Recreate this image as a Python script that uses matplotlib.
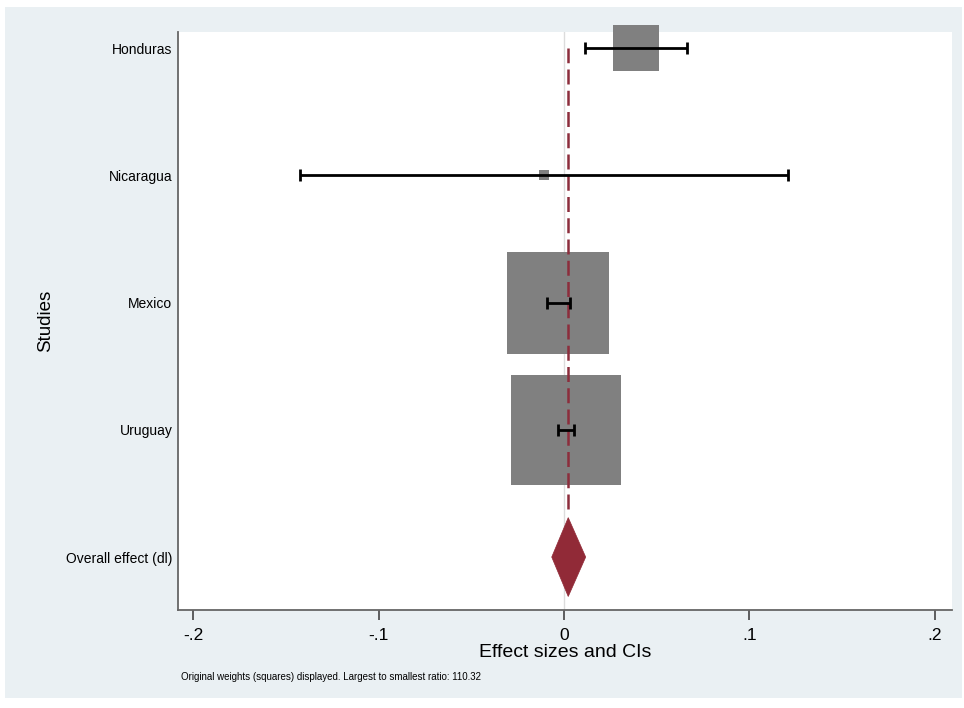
import matplotlib
matplotlib.use("Agg")
import matplotlib.pyplot as plt
from matplotlib.patches import Rectangle, Polygon
import numpy as np

plt.rcParams['font.family'] = ['Liberation Sans', 'DejaVu Sans']

# ========================================================================
# data
studies = ["Honduras", "Nicaragua", "Mexico", "Uruguay"]
effect = [0.0390, -0.0108, -0.0030, 0.0011]
ci_low = [0.0116, -0.1424, -0.0093, -0.0034]
ci_high = [0.0664, 0.1208, 0.0030, 0.0056]
weights = [20.1, 1.0, 96.7, 110.32]   # relative (square areas)

overall_label = "Overall effect (dl)"
overall_effect = 0.0023
overall_low = -0.0066
overall_high = 0.0117

xticks = [-0.2, -0.1, 0.0, 0.1, 0.2]
xticklabels = ["-.2", "-.1", "0", ".1", ".2"]
note = "Original weights (squares) displayed. Largest to smallest ratio: 110.32"

# ========================================================================
W, H = 964, 708
fig = plt.figure(figsize=(W / 100, H / 100), dpi=100)
fig.patch.set_facecolor("white")
# stata style outer panel
fig.patches.append(Rectangle((5 / W, 1 - 698 / H), (962 - 5) / W, (698 - 7) / H,
                             transform=fig.transFigure, facecolor="#eaf0f3",
                             edgecolor="none", zorder=-5))

ax = fig.add_axes([178 / W, 1 - 610 / H, (952 - 178) / W, (610 - 32) / H])
ax.set_facecolor("white")

n = len(studies)
ypos = np.arange(n + 1, 1, -1)   # 5,4,3,2 for studies, overall at 1
y_overall = 1

ax.set_xlim(-0.2081, 0.2092)
ax.set_ylim(0.584, 5.126)

# null line at zero
ax.axvline(0, color="#dcdcdc", lw=1.0, zorder=1)

# squares, side proportional to sqrt(weight)
max_side_px = 110.0
px_to_pt = 72.0 / 100
for i in range(n):
    side = np.sqrt(weights[i] / max(weights)) * max_side_px * px_to_pt
    ax.scatter([effect[i]], [ypos[i]], marker="s", s=side ** 2, color="#808080",
               linewidths=0, zorder=2, clip_on=False)

# confidence intervals
for i in range(n):
    ax.errorbar([effect[i]], [ypos[i]],
                xerr=[[effect[i] - ci_low[i]], [ci_high[i] - effect[i]]],
                fmt="none", ecolor="black", elinewidth=2.0, capsize=4.5,
                capthick=2.0, zorder=4)

# overall effect line and diamond
ax.plot([overall_effect, overall_effect], [y_overall + 0.38, ypos[0]],
        color="#8c2d3c", lw=1.8, dashes=(6, 2.5), zorder=3)
dh = 0.31
diamond = Polygon([[overall_low, y_overall], [overall_effect, y_overall + dh],
                   [overall_high, y_overall], [overall_effect, y_overall - dh]],
                  closed=True, facecolor="#912a37", edgecolor="#912a37", lw=0.5, zorder=3)
ax.add_patch(diamond)

# axes styling
for s in ["top", "right"]:
    ax.spines[s].set_visible(False)
ax.spines["left"].set_color("#666666")
ax.spines["bottom"].set_color("#666666")
ax.spines["left"].set_linewidth(1.3)
ax.spines["bottom"].set_linewidth(1.3)

ax.set_xticks(xticks)
ax.set_xticklabels(xticklabels, fontsize=12.5)
ax.tick_params(axis="x", direction="out", length=7, width=1.2, color="#444444", pad=6)

ax.set_yticks(list(ypos) + [y_overall])
ax.set_yticklabels(studies + [overall_label], fontsize=10)
ax.tick_params(axis="y", length=0, pad=4)

ax.set_xlabel("Effect sizes and CIs", fontsize=14, labelpad=1)
ax.set_ylabel("Studies", fontsize=13.5)
ax.yaxis.set_label_coords(-0.16, 0.5)

fig.text(181 / W, 1 - 677 / H, note, fontsize=7.0, ha="left", va="center")

fig.savefig("out.png", dpi=100)
